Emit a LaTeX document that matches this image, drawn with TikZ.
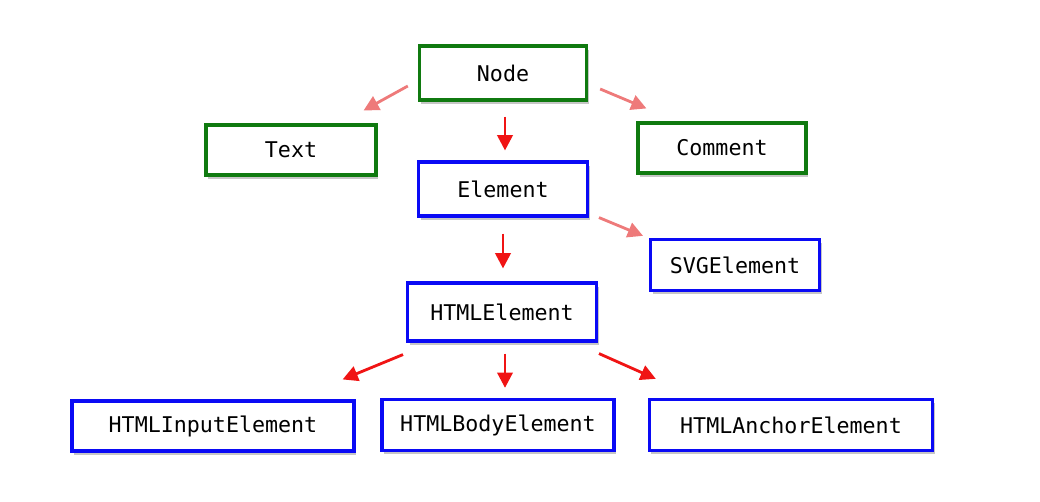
\documentclass[tikz,border=0pt]{standalone}
\usepackage{fontspec}
\setmonofont{DejaVu Sans Mono}
\usetikzlibrary{arrows.meta,shadows}
\definecolor{domgreen}{RGB}{16,122,16}
\definecolor{domblue}{RGB}{10,10,245}
\definecolor{domred}{RGB}{240,20,20}
\definecolor{dompink}{RGB}{238,122,122}
\begin{document}
\begin{tikzpicture}[x=0.025cm, y=-0.025cm,
    box/.style = {draw, line width=2.2pt, fill=white, inner sep=0pt,
                  font=\ttfamily\fontsize{15.4}{18}\selectfont,
                  drop shadow={opacity=0.45, shadow xshift=1.5pt, shadow yshift=-2.5pt}},
    corebox/.style = {box, draw=domgreen},
    elembox/.style = {box, draw=domblue},
    inherit/.style = {-{Triangle[length=0.38cm, width=0.38cm]}, line width=2pt, domred},
    weak/.style = {inherit, dompink}]
  \useasboundingbox (0,0) rectangle (1040,501);
  % green nodes
  \node [corebox, minimum width=4.18cm, minimum height=1.35cm] (node)    at (503,73)  {Node};
  \node [corebox, minimum width=4.25cm, minimum height=1.25cm] (text)    at (291,150) {Text};
  \node [corebox, minimum width=4.2cm,  minimum height=1.25cm] (comment) at (722,148) {Comment};
  % blue nodes
  \node [elembox, minimum width=4.22cm, minimum height=1.35cm] (element) at (503,189) {Element};
  \node [elembox, minimum width=4.22cm, minimum height=1.28cm] (svg)     at (735,265) {SVGElement};
  \node [elembox, minimum width=4.72cm, minimum height=1.45cm] (html)    at (502,312) {HTMLElement};
  \node [elembox, minimum width=7.05cm, minimum height=1.25cm] (input)   at (213,426) {HTMLInputElement};
  \node [elembox, minimum width=5.8cm,  minimum height=1.28cm] (body)    at (498,425) {HTMLBodyElement};
  \node [elembox, minimum width=7.08cm, minimum height=1.28cm] (anchor)  at (791,425) {HTMLAnchorElement};
  % arrows
  \draw [weak]    ([shift={(-10,13)}]node.west)          -- ([shift={(-14,-13)}]text.north east);
  \draw [inherit] ([shift={(2,15)}]node.south)           -- ([shift={(2,-10)}]element.north);
  \draw [weak]    ([shift={(12,16)}]node.east)           -- ([shift={(10,-13)}]comment.north west);
  \draw [weak]    ([shift={(10,0)}]element.south east)   -- ([shift={(-6,-2)}]svg.north west);
  \draw [inherit] ([shift={(0,16)}]element.south)        -- ([shift={(1,-13)}]html.north);
  \draw [inherit] ([shift={(-3,12)}]html.south west)     -- ([shift={(-13,-20)}]input.north east);
  \draw [inherit] ([shift={(3,11)}]html.south)           -- ([shift={(7,-10)}]body.north);
  \draw [inherit] ([shift={(1,11)}]html.south east)      -- ([shift={(8,-19)}]anchor.north west);
\end{tikzpicture}
\end{document}
